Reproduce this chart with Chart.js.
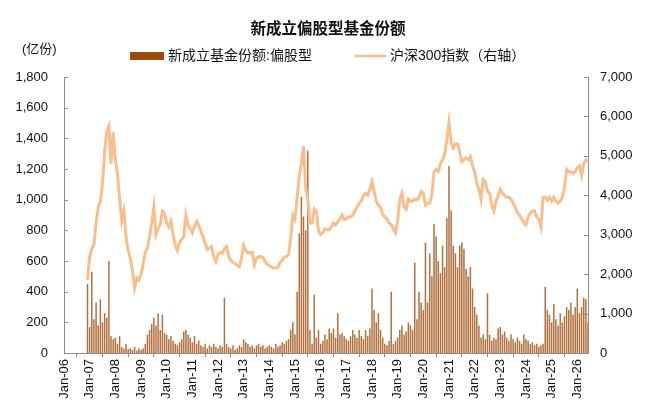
<!DOCTYPE html>
<html>
<head>
<meta charset="utf-8">
<script src="https://cdn.jsdelivr.net/npm/chart.js@4.4.1/dist/chart.umd.min.js"></script>
<style>
  html, body { margin: 0; padding: 0; background: #fff; }
  #wrap { width: 650px; height: 416px; position: relative; }
</style>
</head>
<body>
<div id="wrap"><canvas id="myChart"></canvas></div>
<script>
const FONT = "'Liberation Sans', Arial, 'Noto Sans CJK SC', sans-serif";
const BAR_COLOR = 'rgba(160, 80, 20, 0.82)';
const LINE_COLOR = '#F9BE8C';

const chartTitle = '新成立偏股型基金份额';
const unitLabel = '(亿份)';
const barName = '新成立基金份额:偏股型';
const lineName = '沪深300指数（右轴）';

// categories: one per month, Jan-06 .. Jun-26
const monthNames = ['Jan','Feb','Mar','Apr','May','Jun','Jul','Aug','Sep','Oct','Nov','Dec'];
const yearNames = ['06','07','08','09','10','11','12','13','14','15','16','17','18','19','20','21','22','23','24','25','26'];
const monthCount = 246;

// left axis ticks / right axis ticks
const leftTicks = [0, 200, 400, 600, 800, 1000, 1200, 1400, 1600, 1800];
const rightTicks = [0, 1000, 2000, 3000, 4000, 5000, 6000, 7000];

// new equity fund shares (亿份), one value per month
const fundShares = [
  null,null,null,null,null,null,null,null,null,null,null,450,
  170,530,220,330,180,350,200,260,230,600,110,90,
  100,60,110,40,30,60,25,30,20,40,15,30,
  20,30,60,120,150,190,230,180,260,150,250,130,
  120,90,110,80,60,50,70,90,140,150,120,100,
  70,110,60,80,50,40,60,30,50,40,60,40,
  30,50,40,360,60,40,30,50,20,30,50,40,
  90,70,60,40,50,30,50,60,40,50,30,40,
  50,40,30,60,40,50,70,60,80,90,150,200,
  120,400,780,1020,890,800,1320,150,60,380,100,150,
  60,80,120,90,160,130,160,100,260,120,130,110,
  90,80,110,150,120,100,150,110,90,150,110,160,
  420,280,200,260,150,100,60,50,80,400,60,80,
  100,150,180,120,140,200,180,150,590,220,400,330,
  280,720,330,650,500,840,760,600,520,700,560,880,
  1220,930,700,650,560,700,720,680,550,500,560,420,
  300,250,180,100,120,90,390,120,80,100,90,160,
  170,120,140,100,80,120,90,70,100,80,60,120,
  90,80,60,70,50,60,40,50,60,430,280,250,
  200,320,220,180,260,200,240,300,280,330,250,300,
  420,260,300,360,350,200
];

// CSI 300 index (right axis), one value per month
const csi300 = [
  null,null,null,null,null,null,null,null,null,null,null,1850,
  2450,2650,2750,3300,3700,3850,4300,5100,5600,5750,4800,5600,
  4900,4550,3900,3350,3600,2950,2600,2400,2100,1650,1900,1850,
  2000,2250,2550,2650,2950,3300,3700,3000,3150,3250,3600,3550,
  3300,3200,3350,3000,2750,2600,2800,2880,2950,3500,3250,3150,
  3050,3200,3330,3250,3080,2950,2780,2620,2650,2700,2450,2320,
  2500,2550,2530,2650,2700,2450,2350,2300,2270,2220,2190,2420,
  2730,2600,2530,2550,2560,2240,2400,2450,2440,2420,2320,2250,
  2220,2180,2150,2160,2170,2300,2350,2430,2450,2500,2900,3500,
  3400,3950,4500,4800,5250,4200,3900,3300,3300,3650,3600,3100,
  3000,3050,3150,3130,3130,3200,3300,3250,3330,3400,3500,3380,
  3400,3450,3450,3500,3600,3700,3800,3850,4000,4050,4000,4150,
  4350,4100,3850,3750,3700,3500,3450,3400,3300,3250,3150,3050,
  3350,3900,4050,3700,3650,3900,3850,3850,3900,3880,3950,4100,
  4050,3750,3800,3800,4000,4600,4650,4600,4800,4900,5050,5400,
  5850,5350,5200,5300,5300,5100,4850,4900,4950,4900,4980,4750,
  4600,4300,4150,3900,4400,4350,4100,4050,3750,3600,3850,4000,
  4150,4050,4000,3950,3950,3900,3800,3700,3550,3500,3400,3300,
  3250,3450,3550,3600,3600,3450,3400,3200,3950,3950,3880,3950,
  3850,3950,3850,3800,3850,3950,4200,4650,4600,4600,4550,4600,
  4700,4750,4500,4800,4900,4850
];

let labels = [];
for (let y = 0; y < yearNames.length; y++) {
  for (let m = 0; m < 12; m++) {
    if (labels.length < monthCount) labels.push(monthNames[m] + '-' + yearNames[y]);
  }
}

// title, unit, legend, inward axis ticks
const decorations = {
  id: 'decorations',
  afterDraw(chart) {
    const ctx = chart.ctx;
    const area = chart.chartArea;
    ctx.save();
    ctx.textBaseline = 'middle';
    ctx.fillStyle = '#111';
    ctx.font = 'bold 15.5px ' + FONT;
    ctx.textAlign = 'center';
    ctx.fillText(chartTitle, 328, 30);

    ctx.textAlign = 'left';
    ctx.font = '13px ' + FONT;
    ctx.fillText(unitLabel, 22, 49);

    ctx.fillStyle = '#9E4A0C';
    ctx.fillRect(130, 52, 34, 8);
    ctx.fillStyle = '#111';
    ctx.font = '14px ' + FONT;
    ctx.fillText(barName, 168, 56);

    ctx.strokeStyle = LINE_COLOR;
    ctx.lineWidth = 2.5;
    ctx.beginPath();
    ctx.moveTo(355, 56);
    ctx.lineTo(386, 56);
    ctx.stroke();
    ctx.fillText(lineName, 390, 56);

    ctx.strokeStyle = '#8c8c8c';
    ctx.lineWidth = 1;
    const yl = chart.scales.y, yr = chart.scales.y1;
    yl.ticks.forEach(t => {
      const py = Math.round(yl.getPixelForValue(t.value)) + 0.5;
      ctx.beginPath(); ctx.moveTo(area.left, py); ctx.lineTo(area.left + 4, py); ctx.stroke();
    });
    yr.ticks.forEach(t => {
      const py = Math.round(yr.getPixelForValue(t.value)) + 0.5;
      ctx.beginPath(); ctx.moveTo(area.right, py); ctx.lineTo(area.right - 4, py); ctx.stroke();
    });
    ctx.restore();
  }
};

const data = {
  labels: labels,
  datasets: [
    {
      type: 'line',
      label: lineName,
      data: csi300,
      borderColor: LINE_COLOR,
      borderWidth: 3,
      pointRadius: 0,
      tension: 0,
      yAxisID: 'y1',
      order: 1
    },
    {
      type: 'bar',
      label: barName,
      data: fundShares,
      backgroundColor: BAR_COLOR,
      barPercentage: 0.7,
      categoryPercentage: 1,
      yAxisID: 'y',
      order: 2
    }
  ]
};

const tickFont = { family: FONT, size: 13 };

const config = {
  type: 'bar',
  data: data,
  options: {
    responsive: true,
    maintainAspectRatio: false,
    animation: false,
    layout: { padding: { top: 77, left: 0, right: 0, bottom: 0 } },
    plugins: {
      legend: { display: false },
      title: { display: false },
      tooltip: { enabled: false }
    },
    scales: {
      x: {
        type: 'category',
        offset: false,
        grid: { display: true, drawOnChartArea: false, drawTicks: true, tickLength: 4, color: '#8c8c8c' },
        border: { display: true, color: '#8c8c8c' },
        ticks: {
          autoSkip: false,
          maxRotation: 90,
          minRotation: 90,
          padding: 2,
          color: '#111',
          font: tickFont,
          callback: function (v) { return this.getLabelForValue(v); }
        },
        afterBuildTicks: s => { s.ticks = s.ticks.filter(t => t.value % 12 === 0); },
        afterFit: s => { s.height = 63; }
      },
      y: {
        position: 'left',
        min: 0,
        max: 1800,
        afterBuildTicks: s => { s.ticks = leftTicks.map(v => ({ value: v })); },
        grid: { display: false, drawTicks: false },
        border: { display: true, color: '#8c8c8c' },
        ticks: {
          padding: 16,
          color: '#111',
          font: tickFont,
          callback: v => v.toLocaleString('en-US')
        },
        afterFit: s => { s.width = 64; }
      },
      y1: {
        position: 'right',
        min: 0,
        max: 7000,
        afterBuildTicks: s => { s.ticks = rightTicks.map(v => ({ value: v })); },
        grid: { display: false, drawTicks: false },
        border: { display: true, color: '#8c8c8c' },
        ticks: {
          padding: 12,
          color: '#111',
          font: tickFont,
          callback: v => v.toLocaleString('en-US')
        },
        afterFit: s => { s.width = 62; }
      }
    }
  },
  plugins: [decorations]
};

const myChart = new Chart(document.getElementById('myChart'), config);
</script>
</body>
</html>
